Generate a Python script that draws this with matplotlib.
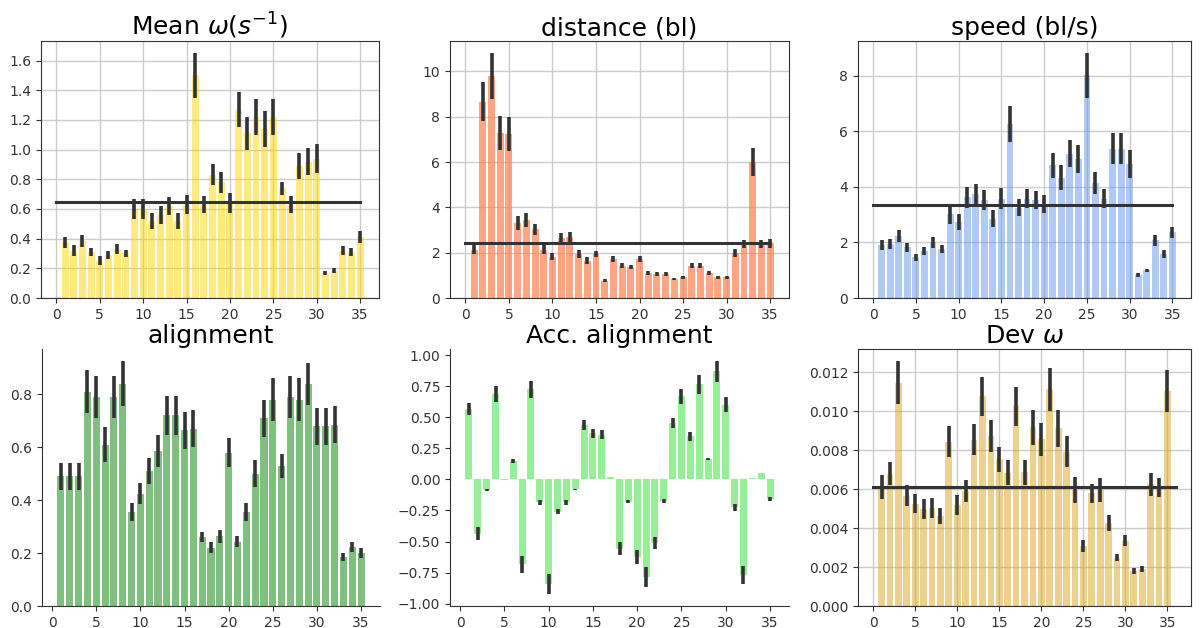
import numpy as np
import matplotlib
matplotlib.use("Agg")
import matplotlib.pyplot as plt

groups = list(range(1, 36))

mean_omega = [0.375, 0.32, 0.385, 0.31, 0.25, 0.29, 0.33, 0.30, 0.60, 0.60,
              0.52, 0.56, 0.62, 0.52, 0.63, 1.50, 0.63, 0.83, 0.78, 0.64,
              1.27, 1.11, 1.22, 1.14, 1.22, 0.74, 0.63, 0.89, 0.92, 0.94,
              0.17, 0.185, 0.32, 0.31, 0.41]
mean_omega_err = [0.035, 0.035, 0.04, 0.03, 0.03, 0.03, 0.035, 0.025, 0.065, 0.065,
                  0.055, 0.06, 0.06, 0.055, 0.065, 0.15, 0.06, 0.07, 0.07, 0.065,
                  0.12, 0.11, 0.12, 0.12, 0.12, 0.045, 0.06, 0.085, 0.09, 0.10,
                  0.015, 0.015, 0.03, 0.03, 0.04]
mean_omega_avg = 0.645

distance = [2.12, 8.67, 9.8, 7.3, 7.24, 3.32, 3.43, 3.03, 2.12, 1.83,
            2.63, 2.67, 1.94, 1.65, 1.94, 0.77, 1.72, 1.43, 1.36, 1.72,
            1.10, 1.07, 1.07, 0.83, 0.92, 1.43, 1.43, 1.10, 0.92, 0.92,
            2.0, 2.38, 6.0, 2.38, 2.41]
distance_err = [0.2, 0.85, 1.0, 0.75, 0.75, 0.3, 0.3, 0.25, 0.2, 0.15,
                0.22, 0.25, 0.18, 0.15, 0.15, 0.06, 0.15, 0.12, 0.1, 0.13,
                0.08, 0.08, 0.08, 0.05, 0.06, 0.1, 0.12, 0.08, 0.06, 0.06,
                0.18, 0.18, 0.6, 0.18, 0.2]
distance_avg = 2.42

speed = [1.9, 1.96, 2.24, 1.82, 1.46, 1.68, 2.0, 1.76, 3.01, 2.74,
         3.63, 3.73, 3.52, 2.85, 3.58, 6.27, 3.25, 3.58, 3.52, 3.37,
         4.77, 4.32, 5.2, 5.01, 8.01, 4.14, 3.58, 5.38, 5.38, 4.83,
         0.83, 0.99, 2.08, 1.58, 2.37]
speed_err = [0.18, 0.18, 0.22, 0.15, 0.13, 0.15, 0.2, 0.15, 0.33, 0.3,
             0.38, 0.37, 0.35, 0.3, 0.38, 0.65, 0.3, 0.33, 0.33, 0.32,
             0.45, 0.45, 0.5, 0.5, 0.8, 0.4, 0.35, 0.55, 0.55, 0.5,
             0.07, 0.07, 0.2, 0.15, 0.2]
speed_avg = 3.34

alignment = [0.49, 0.49, 0.49, 0.81, 0.79, 0.61, 0.79, 0.84, 0.355, 0.425,
             0.51, 0.585, 0.72, 0.72, 0.665, 0.67, 0.26, 0.22, 0.263, 0.58,
             0.243, 0.355, 0.50, 0.71, 0.78, 0.53, 0.79, 0.78, 0.84, 0.68,
             0.68, 0.685, 0.185, 0.223, 0.20]
alignment_err = [0.05, 0.05, 0.05, 0.08, 0.08, 0.065, 0.08, 0.085, 0.035, 0.04,
                 0.05, 0.06, 0.075, 0.075, 0.07, 0.07, 0.02, 0.02, 0.025, 0.055,
                 0.02, 0.035, 0.05, 0.07, 0.08, 0.045, 0.08, 0.08, 0.08, 0.07,
                 0.07, 0.07, 0.015, 0.02, 0.02]

acc_alignment = [0.566, -0.437, -0.084, 0.69, -0.005, 0.15, -0.685, 0.725, -0.185, -0.845,
                 -0.26, -0.185, -0.08, 0.44, 0.37, 0.36, 0.016, -0.557, -0.18, -0.625,
                 -0.785, -0.51, -0.175, 0.45, 0.67, 0.345, 0.765, 0.164, 0.87, 0.60,
                 -0.226, -0.77, 0.01, 0.054, -0.16]
acc_alignment_err = [0.05, 0.05, 0.01, 0.065, 0.0, 0.015, 0.07, 0.07, 0.02, 0.08,
                     0.02, 0.02, 0.005, 0.04, 0.035, 0.035, 0.0, 0.055, 0.01, 0.06,
                     0.08, 0.05, 0.015, 0.04, 0.06, 0.035, 0.075, 0.01, 0.085, 0.06,
                     0.025, 0.075, 0.0, 0.0, 0.015]

dev_omega = [0.00612, 0.0068, 0.01147, 0.00566, 0.00526, 0.00497, 0.00504, 0.00461, 0.00843, 0.00518,
             0.0059, 0.00855, 0.01078, 0.00873, 0.00753, 0.00685, 0.01025, 0.00686, 0.00917, 0.00857,
             0.01113, 0.00912, 0.00792, 0.00595, 0.00309, 0.00578, 0.00595, 0.00425, 0.00249, 0.00336,
             0.00178, 0.00192, 0.00624, 0.00609, 0.01104]
dev_omega_err = [0.0006, 0.0006, 0.0011, 0.00055, 0.0005, 0.0005, 0.0005, 0.0004, 0.0008, 0.0005,
                 0.00055, 0.0008, 0.001, 0.0008, 0.00065, 0.00065, 0.001, 0.00065, 0.0009, 0.00085,
                 0.0011, 0.00095, 0.0008, 0.00065, 0.0003, 0.0005, 0.0006, 0.0004, 0.0002, 0.0003,
                 0.00015, 0.00015, 0.0006, 0.0005, 0.0011]
dev_omega_avg = 0.0061

titles = [r"Mean $\omega (s^{-1})$", "distance (bl)", "speed (bl/s)",
          "alignment", "Acc. alignment", r"Dev $\omega$"]

fig = plt.figure(figsize=(12.01, 6.28), dpi=100)
W, H = 1201, 628


def axes_px(x0, x1, y0, y1):
    return fig.add_axes([x0 / W, 1 - y1 / H, (x1 - x0) / W, (y1 - y0) / H])


ERR = dict(ecolor="#333333", elinewidth=2.6, capsize=0)
LINE = "#333333"


def panel(ax, vals, errs, color, alpha, title, avg=None, avg_end=35, grid=True, box=True):
    ax.bar(groups, vals, width=0.8, color=color, alpha=alpha, yerr=errs,
           error_kw=ERR, zorder=2)
    if avg is not None:
        ax.plot([0, avg_end], [avg, avg], color=LINE, lw=2.2, zorder=3)
    ax.set_title(title, fontsize=18, pad=4)
    ax.set_xticks([0, 5, 10, 15, 20, 25, 30, 35])
    ax.tick_params(labelsize=10, colors="#333333", labelcolor="#333333")
    if grid:
        ax.grid(True, color="#cccccc", lw=1.0, zorder=0)
        ax.set_axisbelow(True)
    for s in ax.spines.values():
        s.set_color("#333333")
    if not box:
        ax.spines["top"].set_visible(False)
        ax.spines["right"].set_visible(False)


ax1 = axes_px(41, 379, 41, 298)
panel(ax1, mean_omega, mean_omega_err, "gold", 0.5, titles[0], mean_omega_avg)

ax2 = axes_px(450, 789, 41, 298)
panel(ax2, distance, distance_err, "coral", 0.7, titles[1], distance_avg)

ax3 = axes_px(858, 1191, 41, 298)
panel(ax3, speed, speed_err, "cornflowerblue", 0.5, titles[2], speed_avg)

ax4 = axes_px(42, 380, 349, 606)
panel(ax4, alignment, alignment_err, "green", 0.5, titles[3], grid=False, box=False)

ax5 = axes_px(450, 789, 349, 606)
panel(ax5, acc_alignment, acc_alignment_err, "lightgreen", 0.95, titles[4], grid=False, box=False)

ax6 = axes_px(858, 1191, 349, 606)
panel(ax6, dev_omega, dev_omega_err, "goldenrod", 0.5, titles[5], dev_omega_avg, avg_end=36)

fig.savefig("out.png", dpi=100)
